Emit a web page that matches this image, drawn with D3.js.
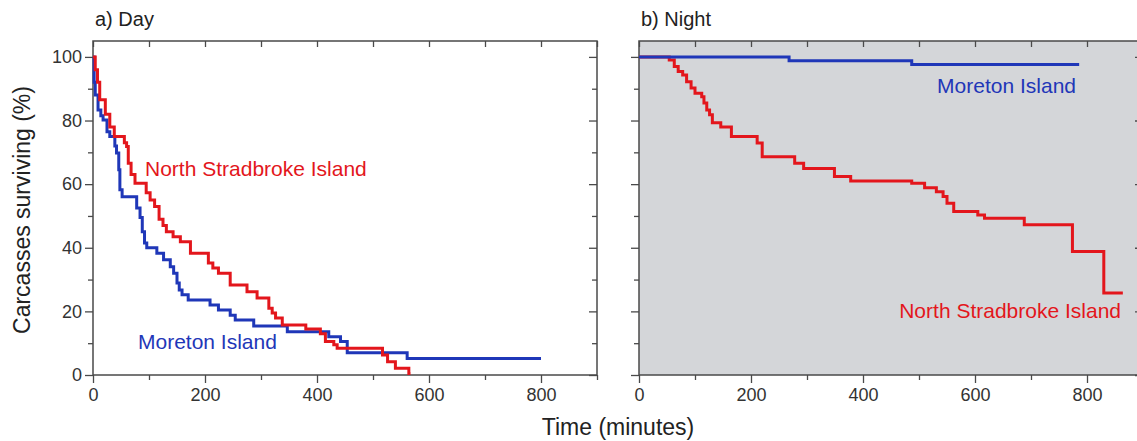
<!DOCTYPE html>
<html>
<head>
<meta charset="utf-8">
<script src="https://cdn.jsdelivr.net/npm/d3@7"></script>
<style>
  body { margin: 0; background: #fff; }
  text { font-family: "Liberation Sans", Arial, Helvetica, sans-serif; }
</style>
</head>
<body>
<div id="chart"></div>
<script>
// Kaplan-Meier style survival steps: time (minutes) and carcasses surviving (%)
const dayNsiTime = [0, 4, 8, 12, 22, 30, 38, 56, 60, 63, 68, 75, 95, 102, 110, 118, 125, 131, 143, 156, 174, 206, 214, 224, 245, 275, 293, 314, 320, 326, 338, 380, 406, 415, 430, 436, 517, 526, 540, 564];
const dayNsiSurv = [100, 96, 92, 86.5, 82, 78, 75, 73, 71.8, 66.6, 63, 60.3, 57.3, 55, 53, 49, 47, 45, 43.5, 41.9, 38.3, 35.2, 33.6, 32, 28.3, 26.2, 24.2, 21, 19.5, 17.9, 15.7, 14.5, 13, 10.5, 9.5, 8.4, 6.3, 4.2, 2.1, 0.5];
const dayNsiEnd = 567;

const dayMorTime = [0, 2, 4, 9, 14, 18, 25, 30, 39, 42, 46, 48, 52, 78, 84, 88, 92, 96, 114, 126, 138, 144, 150, 154, 159, 170, 209, 224, 245, 254, 287, 347, 421, 442, 454, 561];
const dayMorSurv = [100, 92, 88, 83.3, 81.5, 80.2, 76.5, 75, 72, 69.8, 64.5, 58.2, 56, 52.5, 49.5, 45, 41.5, 40, 38.3, 36.2, 34, 32, 28.9, 26.7, 25.2, 23.6, 22, 20.4, 18.8, 17.3, 15.4, 13.6, 12, 10.5, 7, 5.2];
const dayMorEnd = 800;

const nightNsiTime = [0, 54, 63, 70, 78, 85, 93, 100, 112, 116, 121, 126, 131, 146, 165, 211, 220, 278, 294, 349, 378, 487, 510, 531, 543, 550, 562, 605, 617, 688, 774, 830];
const nightNsiSurv = [100, 99, 97, 95.4, 94.3, 92.2, 90.2, 88.6, 87.5, 85.5, 83.3, 81.8, 79.3, 78, 75, 72.9, 68.6, 66.6, 64.9, 62.4, 61, 60.3, 58.9, 57.6, 56.1, 54, 51.4, 50.3, 49.3, 47.2, 38.8, 25.8];
const nightNsiEnd = 864;

const nightMorTime = [0, 268, 487];
const nightMorSurv = [100, 98.8, 97.6];
const nightMorEnd = 786;

const xMajorTicks = [0, 200, 400, 600, 800];
const xMinorTicks = [100, 300, 500, 700, 900];
const xAllTicks = [0, 100, 200, 300, 400, 500, 600, 700, 800, 900];
const yMajorTicks = [0, 20, 40, 60, 80, 100];
const yMinorTicks = [10, 30, 50, 70, 90];

const RED = "#e3161c", BLUE = "#1f37b8";

const W = 1137, H = 441;
const svg = d3.select("#chart").append("svg")
  .attr("width", W).attr("height", H);

const plotTop = 41, plotBottom = 375, plotW = 504;
const panels = [
  { left: 93, title: "a) Day", bg: "#ffffff", labels: true,
    series: [
      { t: dayMorTime, s: dayMorSurv, end: dayMorEnd, color: BLUE },
      { t: dayNsiTime, s: dayNsiSurv, end: dayNsiEnd, color: RED }
    ],
    notes: [
      { text: "North Stradbroke Island", x: 145, y: 176, anchor: "start", color: RED },
      { text: "Moreton Island", x: 138, y: 349, anchor: "start", color: BLUE }
    ] },
  { left: 639, title: "b) Night", bg: "#d4d6d9", labels: false,
    series: [
      { t: nightNsiTime, s: nightNsiSurv, end: nightNsiEnd, color: RED },
      { t: nightMorTime, s: nightMorSurv, end: nightMorEnd, color: BLUE }
    ],
    notes: [
      { text: "Moreton Island", x: 1076, y: 93, anchor: "end", color: BLUE },
      { text: "North Stradbroke Island", x: 1121, y: 318, anchor: "end", color: RED }
    ] }
];

const y = d3.scaleLinear().domain([0, 105]).range([plotBottom, plotTop]);

function styleAxis(g) {
  g.select(".domain").remove();
  g.selectAll(".tick line").attr("stroke", "#4a4a4a").attr("stroke-width", 1.3);
  g.selectAll(".tick text").attr("fill", "#333").attr("font-size", "18px");
}

panels.forEach(p => {
  const x = d3.scaleLinear().domain([0, 900]).range([p.left, p.left + plotW]);
  const g = svg.append("g");

  g.append("rect")
    .attr("x", p.left).attr("y", plotTop)
    .attr("width", plotW).attr("height", plotBottom - plotTop)
    .attr("fill", p.bg);

  // bottom axis (outward ticks)
  g.append("g").attr("transform", `translate(0,${plotBottom})`)
    .call(d3.axisBottom(x).tickValues(xMajorTicks).tickSize(8).tickPadding(5))
    .call(styleAxis);
  g.append("g").attr("transform", `translate(0,${plotBottom})`)
    .call(d3.axisBottom(x).tickValues(xMinorTicks).tickSize(5).tickFormat(""))
    .call(styleAxis);

  // top axis (inward ticks)
  g.append("g").attr("transform", `translate(0,${plotTop})`)
    .call(d3.axisTop(x).tickValues(xAllTicks).tickSize(-6).tickFormat(""))
    .call(styleAxis);

  // left axis (outward ticks)
  g.append("g").attr("transform", `translate(${p.left},0)`)
    .call(d3.axisLeft(y).tickValues(yMajorTicks).tickSize(8).tickPadding(3)
      .tickFormat(p.labels ? d3.format("d") : ""))
    .call(styleAxis);
  g.append("g").attr("transform", `translate(${p.left},0)`)
    .call(d3.axisLeft(y).tickValues(yMinorTicks).tickSize(5).tickFormat(""))
    .call(styleAxis);

  // right axis (inward ticks)
  g.append("g").attr("transform", `translate(${p.left + plotW},0)`)
    .call(d3.axisRight(y).tickValues(yMajorTicks).tickSize(-8).tickFormat(""))
    .call(styleAxis);
  g.append("g").attr("transform", `translate(${p.left + plotW},0)`)
    .call(d3.axisRight(y).tickValues(yMinorTicks).tickSize(-5).tickFormat(""))
    .call(styleAxis);

  // frame
  g.append("rect")
    .attr("x", p.left).attr("y", plotTop)
    .attr("width", plotW).attr("height", plotBottom - plotTop)
    .attr("fill", "none").attr("stroke", "#4a4a4a").attr("stroke-width", 1.5);

  // survival curves
  const line = d3.line()
    .x(d => x(d[0]))
    .y(d => y(d[1]))
    .curve(d3.curveStepAfter);

  p.series.forEach(sr => {
    const pts = sr.t.map((t, i) => [t, sr.s[i]]);
    pts.push([sr.end, sr.s[sr.s.length - 1]]);
    g.append("path")
      .attr("d", line(pts))
      .attr("fill", "none")
      .attr("stroke", sr.color)
      .attr("stroke-width", 3)
      .attr("stroke-linejoin", "miter");
  });

  p.notes.forEach(n => {
    g.append("text")
      .attr("x", n.x).attr("y", n.y)
      .attr("text-anchor", n.anchor)
      .attr("font-size", "21px")
      .attr("fill", n.color)
      .text(n.text);
  });

  g.append("text")
    .attr("x", p.left + 2).attr("y", 26)
    .attr("font-size", "20px")
    .attr("fill", "#222")
    .text(p.title);
});

// axis titles
svg.append("text")
  .attr("transform", `translate(30,${(plotTop + plotBottom) / 2 + 2}) rotate(-90)`)
  .attr("text-anchor", "middle")
  .attr("font-size", "23px")
  .attr("fill", "#222")
  .text("Carcasses surviving (%)");

svg.append("text")
  .attr("x", 618).attr("y", 435)
  .attr("text-anchor", "middle")
  .attr("font-size", "23px")
  .attr("fill", "#222")
  .text("Time (minutes)");
</script>
</body>
</html>
